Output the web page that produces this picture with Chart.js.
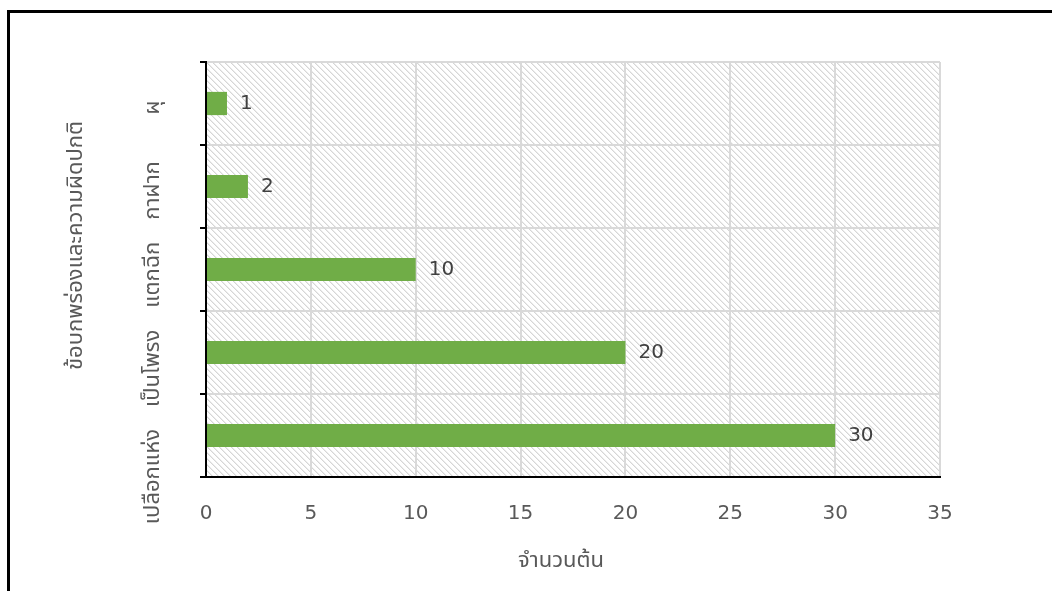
<!DOCTYPE html>
<html>
<head>
<meta charset="utf-8">
<script src="https://cdn.jsdelivr.net/npm/chart.js@4.4.1/dist/chart.umd.min.js"></script>
<style>
  html, body { margin: 0; padding: 0; background: #fff; overflow: hidden; }
  #wrap { position: relative; width: 1052px; height: 591px; }
  #frame {
    position: absolute; left: 7px; top: 10px;
    width: 1100px; height: 700px;
    border: 3px solid #000; box-sizing: border-box;
  }
  canvas { position: absolute; left: 0; top: 0; }
</style>
</head>
<body>
<div id="wrap">
  <div id="frame"></div>
  <canvas id="chart" width="1052" height="591"></canvas>
</div>
<script>
// Tree defects survey
const categories = ['ผุ', 'กาฝาก', 'แตกฉีก', 'เป็นโพรง', 'เปลือกแห่ง'];
const treeCounts = [1, 2, 10, 20, 30];
const xTicks = [0, 5, 10, 15, 20, 25, 30, 35];
const xTitle = 'จำนวนต้น';
const yTitle = 'ข้อบกพร่องและความผิดปกติ';

const NUM_FONT = "'DejaVu Sans', Tahoma, sans-serif";
const THAI_FONT = "Tahoma, 'Noto Sans Thai', 'DejaVu Sans', sans-serif";
const TEXT_COLOR = '#595959';
const GRID_COLOR = '#d9d9d9';

// Light diagonal hatch for the plot background
function makeHatch() {
    const n = 6;
    const c = document.createElement('canvas');
    c.width = n;
    c.height = n;
    const g = c.getContext('2d');
    g.fillStyle = '#ffffff';
    g.fillRect(0, 0, n, n);
    for (let i = 0; i < n; i++) {
        g.fillStyle = '#d6d6d6';
        g.fillRect(i, i, 1, 1);
        g.fillStyle = '#ececec';
        g.fillRect((i + 1) % n, i, 1, 1);
    }
    return g.createPattern(c, 'repeat');
}

const hatchBackground = {
    id: 'hatchBackground',
    beforeDraw(chart) {
        const { ctx, chartArea: a } = chart;
        ctx.save();
        ctx.fillStyle = makeHatch();
        ctx.fillRect(a.left, a.top, a.right - a.left, a.bottom - a.top);
        ctx.restore();
    }
};

// Vertical category labels and axis titles
const axisText = {
    id: 'axisText',
    afterDraw(chart) {
        const { ctx, chartArea: a } = chart;
        const y = chart.scales.y;
        ctx.save();
        ctx.fillStyle = TEXT_COLOR;
        ctx.textBaseline = 'middle';
        ctx.font = '22px ' + THAI_FONT;

        // labels run bottom-to-top; a long one is pushed down below its neighbour
        let prevEnd = -Infinity;
        ctx.textAlign = 'left';
        categories.forEach((label, i) => {
            const len = ctx.measureText(label).width;
            const mid = y.getPixelForTick(i) + 4;
            const top = Math.max(mid - len / 2, prevEnd + 22);
            prevEnd = top + len;
            ctx.save();
            ctx.translate(155, top + len);
            ctx.rotate(-Math.PI / 2);
            ctx.fillText(label, 0, 0);
            ctx.restore();
        });

        ctx.textAlign = 'center';
        ctx.save();
        ctx.translate(78, (a.top + a.bottom) / 2 - 24);
        ctx.rotate(-Math.PI / 2);
        ctx.fillText(yTitle, 0, 0);
        ctx.restore();

        ctx.fillText(xTitle, (a.left + a.right) / 2 - 12, 563);
        ctx.restore();
    }
};

// Value printed just past the end of each bar
const valueLabels = {
    id: 'valueLabels',
    afterDatasetsDraw(chart) {
        const { ctx } = chart;
        const meta = chart.getDatasetMeta(0);
        ctx.save();
        ctx.font = '20px ' + NUM_FONT;
        ctx.fillStyle = '#404040';
        ctx.textAlign = 'left';
        ctx.textBaseline = 'middle';
        meta.data.forEach((bar, i) => {
            ctx.fillText(String(treeCounts[i]), bar.x + 13, bar.y);
        });
        ctx.restore();
    }
};

new Chart(document.getElementById('chart'), {
    type: 'bar',
    data: {
        labels: categories,
        datasets: [{
            data: treeCounts,
            backgroundColor: '#70ad47',
            borderWidth: 0,
            barPercentage: 0.28,
            categoryPercentage: 1.0
        }]
    },
    options: {
        indexAxis: 'y',
        responsive: false,
        animation: false,
        devicePixelRatio: 1,
        layout: { padding: { top: 62, right: 112, left: 0, bottom: 0 } },
        plugins: {
            legend: { display: false },
            tooltip: { enabled: false }
        },
        scales: {
            x: {
                min: 0,
                max: 35,
                afterBuildTicks(scale) {
                    scale.ticks = xTicks.map(v => ({ value: v }));
                },
                afterFit(scale) { scale.height = 114; },
                grid: { color: GRID_COLOR, lineWidth: 2, drawTicks: false },
                border: { display: true, color: '#000', width: 2 },
                ticks: {
                    padding: 25,
                    color: TEXT_COLOR,
                    font: { family: NUM_FONT, size: 20 }
                }
            },
            y: {
                afterFit(scale) { scale.width = 206; },
                grid: {
                    color: GRID_COLOR,
                    lineWidth: 2,
                    drawTicks: true,
                    tickLength: 6,
                    tickColor: '#000',
                    tickWidth: 2
                },
                border: { display: true, color: '#000', width: 2 },
                ticks: { display: false }
            }
        }
    },
    plugins: [hatchBackground, axisText, valueLabels]
});
</script>
</body>
</html>
